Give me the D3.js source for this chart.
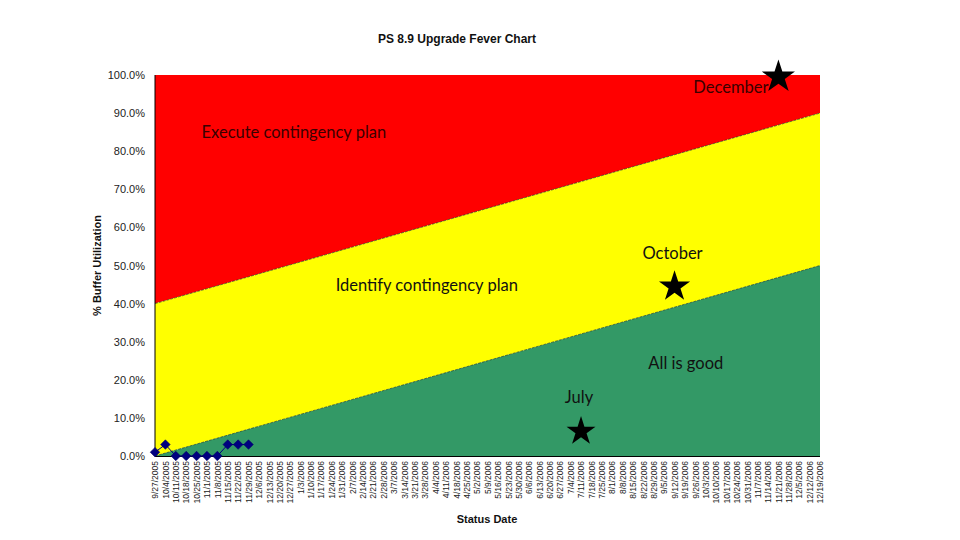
<!DOCTYPE html>
<html>
<head>
<meta charset="utf-8">
<script src="https://cdn.jsdelivr.net/npm/d3@7"></script>
<style>
  html, body { margin: 0; padding: 0; background: #fff; }
  svg { display: block; }
</style>
</head>
<body>
<svg id="chart" width="960" height="540"></svg>
<script>
// ---------- DATA ----------
const statusDates = [
  "9/27/2005","10/4/2005","10/11/2005","10/18/2005","10/25/2005","11/1/2005","11/8/2005",
  "11/15/2005","11/22/2005","11/29/2005","12/6/2005","12/13/2005","12/20/2005","12/27/2005",
  "1/3/2006","1/10/2006","1/17/2006","1/24/2006","1/31/2006","2/7/2006","2/14/2006","2/21/2006",
  "2/28/2006","3/7/2006","3/14/2006","3/21/2006","3/28/2006","4/4/2006","4/11/2006","4/18/2006",
  "4/25/2006","5/2/2006","5/9/2006","5/16/2006","5/23/2006","5/30/2006","6/6/2006","6/13/2006",
  "6/20/2006","6/27/2006","7/4/2006","7/11/2006","7/18/2006","7/25/2006","8/1/2006","8/8/2006",
  "8/15/2006","8/22/2006","8/29/2006","9/5/2006","9/12/2006","9/19/2006","9/26/2006","10/3/2006",
  "10/10/2006","10/17/2006","10/24/2006","10/31/2006","11/7/2006","11/14/2006","11/21/2006",
  "11/28/2006","12/5/2006","12/12/2006","12/19/2006"
];

// Buffer utilization readings (fraction)
const bufferDates  = ["9/27/2005","10/4/2005","10/11/2005","10/18/2005","10/25/2005","11/1/2005","11/8/2005","11/15/2005","11/22/2005","11/29/2005"];
const bufferValues = [0.01, 0.03, 0.0, 0.0, 0.0, 0.0, 0.0, 0.03, 0.03, 0.03];

// Zone boundaries: value at first and last status date
const boundaryDates  = ["9/27/2005", "12/19/2006"];
const greenTop       = [0.0, 0.5];
const yellowTop      = [0.4, 0.9];
const redTop         = [1.0, 1.0];

// Milestone stars
const milestoneNames  = ["July", "October", "December"];
const milestoneDates  = ["7/11/2006", "9/12/2006", "11/21/2006"];
const milestoneValues = [0.07, 0.45, 1.0];

// Zone labels
const zoneLabels = ["Execute contingency plan", "Identify contingency plan", "All is good"];

const yTicks = [0, 0.1, 0.2, 0.3, 0.4, 0.5, 0.6, 0.7, 0.8, 0.9, 1.0];

// ---------- LAYOUT ----------
const svg = d3.select("#chart");
const plotLeft = 155, plotRight = 820, plotTop = 75, plotBottom = 456;

const x = d3.scalePoint().domain(statusDates).range([plotLeft, plotRight]);
const y = d3.scaleLinear().domain([0, 1]).range([plotBottom, plotTop]);

const colors = { red: "#FF0000", yellow: "#FFFF00", green: "#339966" };

// zones (stacked areas)
function zoneArea(lowerArr, upperArr) {
  const pts = boundaryDates.map((d, i) => ({ d, lo: lowerArr ? lowerArr[i] : 0, hi: upperArr[i] }));
  return d3.area().x(p => x(p.d)).y0(p => y(p.lo)).y1(p => y(p.hi))(pts);
}
svg.append("path").attr("d", zoneArea(yellowTop, redTop)).attr("fill", colors.red);
svg.append("path").attr("d", zoneArea(greenTop, yellowTop)).attr("fill", colors.yellow);
svg.append("path").attr("d", zoneArea(null, greenTop)).attr("fill", colors.green);

// boundary lines
[greenTop, yellowTop].forEach(arr => {
  const pts = boundaryDates.map((d, i) => [x(d), y(arr[i])]);
  svg.append("path").attr("d", d3.line()(pts))
    .attr("fill", "none").attr("stroke", "#1a3a1a").attr("stroke-width", 0.8)
    .attr("stroke-dasharray", "3,1").attr("opacity", 0.8);
});

// axes lines
svg.append("line").attr("x1", plotLeft).attr("x2", plotLeft).attr("y1", plotTop).attr("y2", plotBottom)
  .attr("stroke", "#000").attr("stroke-width", 1);
svg.append("line").attr("x1", plotLeft).attr("x2", plotRight).attr("y1", plotBottom + 0.5).attr("y2", plotBottom + 0.5)
  .attr("stroke", "#000").attr("stroke-width", 1);

// y axis via d3
const yAxis = d3.axisLeft(y).tickValues(yTicks).tickFormat(d3.format(".1%")).tickSize(0).tickPadding(10);
const yg = svg.append("g").attr("transform", `translate(${plotLeft},0)`).call(yAxis);
yg.select(".domain").remove();
yg.selectAll("text").attr("font-family", "Arial, 'Liberation Sans', sans-serif")
  .attr("font-size", 11).attr("fill", "#222");

// x axis via d3
const xAxis = d3.axisBottom(x).tickSize(0).tickPadding(0);
const xg = svg.append("g").attr("transform", `translate(0,${plotBottom})`).call(xAxis);
xg.select(".domain").remove();
xg.selectAll("text")
  .attr("font-family", "Arial, 'Liberation Sans', sans-serif")
  .attr("font-size", 8.5).attr("fill", "#222")
  .attr("text-anchor", "end")
  .attr("dy", "0.32em")
  .attr("transform", "translate(0,5) rotate(-90)")
  .attr("x", 0).attr("y", 0);

// buffer series line + diamonds
const bufPts = bufferDates.map((d, i) => [x(d), y(bufferValues[i])]);
svg.append("path").attr("d", d3.line()(bufPts))
  .attr("fill", "none").attr("stroke", "#000080").attr("stroke-width", 1);
svg.selectAll(".dia").data(bufferDates).enter().append("path")
  .attr("d", d3.symbol().type(d3.symbolSquare).size(46))
  .attr("transform", (d, i) => `translate(${x(d)},${y(bufferValues[i])}) rotate(45)`)
  .attr("fill", "#000080").attr("stroke", "#000060").attr("stroke-width", 0.5);

// stars
const starSizes = [260, 300, 340];
svg.selectAll(".star").data(milestoneDates).enter().append("path")
  .attr("d", (d, i) => d3.symbol().type(d3.symbolStar).size(starSizes[i])())
  .attr("transform", (d, i) => `translate(${x(d)},${y(milestoneValues[i]) + 2})`)
  .attr("fill", "#000");

// milestone labels
const annFont = "Lato, 'Open Sans', sans-serif";
const annSize = 16.5;
const mIdx = n => milestoneNames.indexOf(n);
svg.append("text").text("July")
  .attr("x", x(milestoneDates[mIdx("July")]) - 2).attr("y", y(milestoneValues[mIdx("July")]) - 26)
  .attr("text-anchor", "middle").attr("font-family", annFont).attr("font-size", annSize).attr("fill", "#111");
svg.append("text").text("October")
  .attr("x", x(milestoneDates[mIdx("October")]) - 2).attr("y", y(milestoneValues[mIdx("October")]) - 26)
  .attr("text-anchor", "middle").attr("font-family", annFont).attr("font-size", annSize).attr("fill", "#111");
svg.append("text").text("December")
  .attr("x", x(milestoneDates[mIdx("December")]) - 10).attr("y", y(milestoneValues[mIdx("December")]) + 18)
  .attr("text-anchor", "end").attr("font-family", annFont).attr("font-size", annSize).attr("fill", "#3a0000");

// zone labels
svg.append("text").text(zoneLabels[0])
  .attr("x", x(statusDates[4]) + 5).attr("y", y(0.85) + 6)
  .attr("font-family", annFont).attr("font-size", annSize).attr("fill", "#3a0000");
svg.append("text").text(zoneLabels[1])
  .attr("x", x(statusDates[17]) + 4).attr("y", y(0.45) + 6)
  .attr("font-family", annFont).attr("font-size", annSize).attr("fill", "#111");
svg.append("text").text(zoneLabels[2])
  .attr("x", x(statusDates[47]) + 5).attr("y", y(0.245) + 6)
  .attr("font-family", annFont).attr("font-size", annSize).attr("fill", "#111");

// title & axis titles
const boldFont = "Arial, 'Liberation Sans', sans-serif";
svg.append("text").text("PS 8.9 Upgrade Fever Chart")
  .attr("x", 457).attr("y", 43).attr("text-anchor", "middle")
  .attr("font-family", boldFont).attr("font-weight", "bold").attr("font-size", 12).attr("fill", "#111");
svg.append("text").text("Status Date")
  .attr("x", 487).attr("y", 523).attr("text-anchor", "middle")
  .attr("font-family", boldFont).attr("font-weight", "bold").attr("font-size", 11).attr("fill", "#111");
svg.append("text").text("% Buffer Utilization")
  .attr("transform", `translate(101,${(plotTop + plotBottom) / 2}) rotate(-90)`).attr("text-anchor", "middle")
  .attr("font-family", boldFont).attr("font-weight", "bold").attr("font-size", 11).attr("fill", "#111");
</script>
</body>
</html>
